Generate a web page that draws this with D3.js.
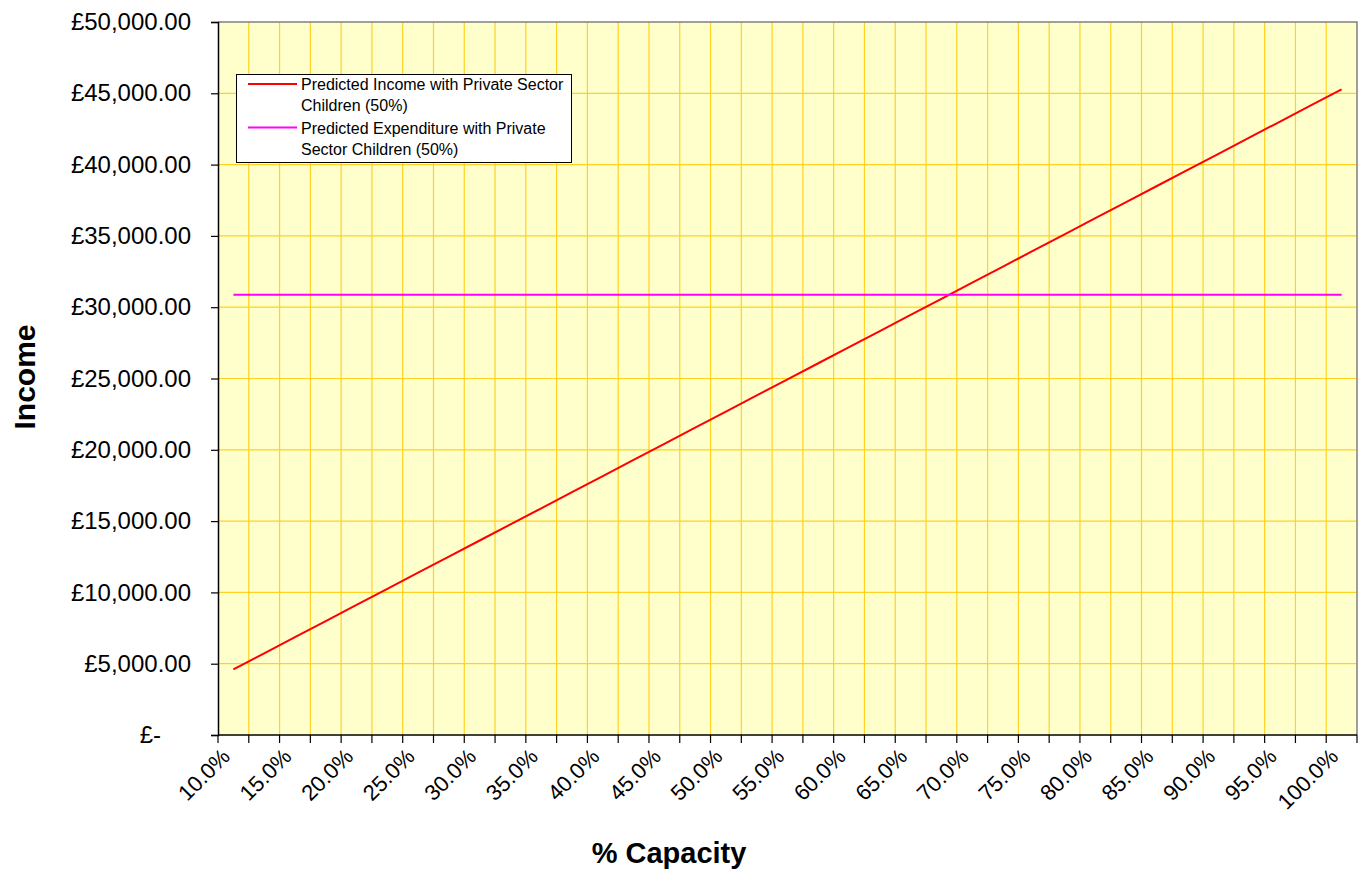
<!DOCTYPE html>
<html>
<head>
<meta charset="utf-8">
<script src="https://cdn.jsdelivr.net/npm/d3@7"></script>
<style>
  html, body { margin: 0; padding: 0; background: #ffffff; }
  svg { display: block; font-family: "Liberation Sans", Arial, sans-serif; }
</style>
</head>
<body>
<svg id="chart" width="1366" height="885"></svg>
<script>
// Occupancy levels (category axis)
const capacity = [
  "10.0%", "12.5%", "15.0%", "17.5%", "20.0%", "22.5%", "25.0%", "27.5%", "30.0%",
  "32.5%", "35.0%", "37.5%", "40.0%", "42.5%", "45.0%", "47.5%", "50.0%", "52.5%",
  "55.0%", "57.5%", "60.0%", "62.5%", "65.0%", "67.5%", "70.0%", "72.5%", "75.0%",
  "77.5%", "80.0%", "82.5%", "85.0%", "87.5%", "90.0%", "92.5%", "95.0%", "97.5%",
  "100.0%"
];

// Predicted income at each occupancy level (£)
const income = [
  4600, 5730, 6860, 7990, 9120, 10250, 11380, 12510, 13640,
  14770, 15900, 17030, 18160, 19290, 20420, 21550, 22680, 23810,
  24940, 26070, 27200, 28330, 29460, 30590, 31720, 32850, 33980,
  35110, 36240, 37370, 38500, 39630, 40760, 41890, 43020, 44150,
  45280
];

// Predicted expenditure (fixed) at each occupancy level (£)
const expenditure = [
  30870, 30870, 30870, 30870, 30870, 30870, 30870, 30870, 30870,
  30870, 30870, 30870, 30870, 30870, 30870, 30870, 30870, 30870,
  30870, 30870, 30870, 30870, 30870, 30870, 30870, 30870, 30870,
  30870, 30870, 30870, 30870, 30870, 30870, 30870, 30870, 30870,
  30870
];

// Value axis ticks and their labels
const yTicks = [0, 5000, 10000, 15000, 20000, 25000, 30000, 35000, 40000, 45000, 50000];
const yTickLabels = ["£-", "£5,000.00", "£10,000.00", "£15,000.00", "£20,000.00", "£25,000.00",
                     "£30,000.00", "£35,000.00", "£40,000.00", "£45,000.00", "£50,000.00"];

const seriesNames = [
  ["Predicted Income with Private Sector", "Children (50%)"],
  ["Predicted Expenditure with Private", "Sector Children (50%)"]
];
const seriesColors = ["#ff0000", "#ff00ff"];

const svg = d3.select("#chart");
const plot = { left: 218, right: 1357, top: 22, bottom: 735 };

const x = d3.scaleBand().domain(capacity).range([plot.left, plot.right]).padding(0);
const y = d3.scaleLinear().domain([0, 50000]).range([plot.bottom, plot.top]);

// Plot background
svg.append("rect")
  .attr("x", plot.left).attr("y", plot.top)
  .attr("width", plot.right - plot.left).attr("height", plot.bottom - plot.top)
  .attr("fill", "#ffffcc");

// Vertical gridlines between categories
const grid = svg.append("g").attr("stroke", "#ffd21f").attr("stroke-width", 1.2);
capacity.forEach((c, i) => {
  if (i === 0) return;
  const gx = x(c);
  grid.append("line").attr("x1", gx).attr("x2", gx).attr("y1", plot.top).attr("y2", plot.bottom);
});
// Horizontal gridlines
yTicks.forEach(t => {
  if (t === 0 || t === 50000) return;
  grid.append("line").attr("x1", plot.left).attr("x2", plot.right)
    .attr("y1", y(t)).attr("y2", y(t));
});

// Plot frame (top and right)
svg.append("path")
  .attr("d", `M${plot.left},${plot.top}H${plot.right}V${plot.bottom}`)
  .attr("fill", "none").attr("stroke", "#808080").attr("stroke-width", 1.5);

// Y axis
const yAxis = d3.axisLeft(y).tickValues(yTicks).tickSize(7).tickPadding(20)
  .tickFormat((d, i) => yTickLabels[i]);
const gy = svg.append("g").attr("transform", `translate(${plot.left},0)`).call(yAxis);
gy.select(".domain").attr("stroke", "#000").attr("stroke-width", 1.5);
gy.selectAll(".tick line").attr("stroke", "#000").attr("stroke-width", 1.2);
gy.selectAll(".tick text")
  .attr("font-size", 24).attr("fill", "#000")
  .attr("font-family", "'Liberation Sans', Arial, sans-serif")
  .attr("dx", d => d === 0 ? -30 : 0);

// X axis: ticks between categories, labels on every other category
const gx = svg.append("g").attr("transform", `translate(0,${plot.bottom})`);
gx.append("line").attr("x1", plot.left).attr("x2", plot.right)
  .attr("stroke", "#000").attr("stroke-width", 1.5);
const edges = capacity.map(c => x(c)).concat([plot.right]);
gx.selectAll("line.tick").data(edges).join("line")
  .attr("class", "tick")
  .attr("x1", d => d).attr("x2", d => d).attr("y1", 0).attr("y2", 8)
  .attr("stroke", "#000").attr("stroke-width", 1.2);
gx.selectAll("text").data(capacity.filter((c, i) => i % 2 === 0)).join("text")
  .attr("transform", d => `translate(${x(d) + x.bandwidth() / 2 - 2},${23}) rotate(-45)`)
  .attr("text-anchor", "end")
  .attr("font-size", 22)
  .attr("fill", "#000")
  .text(d => d);

// Series lines
const line = d3.line()
  .x((d, i) => x(capacity[i]) + x.bandwidth() / 2)
  .y(d => y(d));

[income, expenditure].forEach((vals, k) => {
  svg.append("path")
    .datum(vals)
    .attr("d", line)
    .attr("fill", "none")
    .attr("stroke", seriesColors[k])
    .attr("stroke-width", 2);
});

// Axis titles
svg.append("text")
  .attr("transform", "translate(35,377) rotate(-90)")
  .attr("text-anchor", "middle")
  .attr("font-size", 30).attr("font-weight", "bold")
  .text("Income");

svg.append("text")
  .attr("x", 669).attr("y", 863)
  .attr("text-anchor", "middle")
  .attr("font-size", 29).attr("font-weight", "bold")
  .text("% Capacity");

// Legend
const lg = svg.append("g");
lg.append("rect")
  .attr("x", 236.5).attr("y", 74.5).attr("width", 335).attr("height", 88)
  .attr("fill", "#fff").attr("stroke", "#000").attr("stroke-width", 1);
seriesNames.forEach((lines, k) => {
  const top = 84 + k * 43.5;
  lg.append("line")
    .attr("x1", 248).attr("x2", 297).attr("y1", top).attr("y2", top)
    .attr("stroke", seriesColors[k]).attr("stroke-width", 2);
  lines.forEach((t, j) => {
    lg.append("text")
      .attr("x", 301).attr("y", top + 6 + j * 21)
      .attr("font-size", 16)
      .attr("fill", "#000")
      .text(t);
  });
});
</script>
</body>
</html>
